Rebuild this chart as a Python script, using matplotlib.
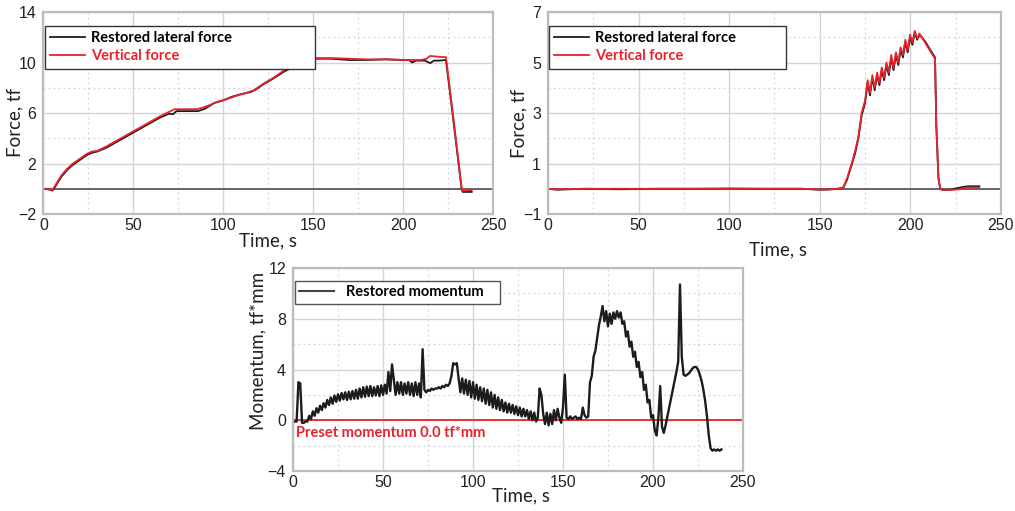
import numpy as np
import matplotlib
matplotlib.use("Agg")
import matplotlib.pyplot as plt
from matplotlib.ticker import MultipleLocator

# font per numeri ed etichette
plt.rcParams["font.family"] = ["Liberation Sans", "DejaVu Sans"]

# --- grafico 1: forza laterale ricostruita e forza verticale ---
t1_lat = [0, 3, 5, 7, 10, 13, 16, 20, 24, 27, 30, 35, 40, 45, 50, 55, 60, 65, 70, 72,
          74, 80, 86, 90, 95, 100, 105, 110, 115, 118, 122, 128, 134, 139, 141, 146, 150,
          160, 170, 180, 190, 200, 203, 205, 207, 212, 215, 217, 220, 223.7, 228, 232.4,
          233, 238]
f1_lat = [0, -0.05, -0.15, 0.25, 0.95, 1.45, 1.85, 2.25, 2.65, 2.85, 2.95, 3.25, 3.65,
          4.05, 4.45, 4.85, 5.25, 5.65, 5.95, 5.9, 6.15, 6.15, 6.15, 6.35, 6.8, 7.0, 7.3,
          7.5, 7.65, 7.85, 8.25, 8.75, 9.3, 9.65, 9.9, 10.2, 10.3, 10.3, 10.2, 10.2, 10.25,
          10.2, 10.2, 10.0, 10.15, 10.15, 9.95, 10.15, 10.15, 10.2, 5.2, 0.0, -0.25, -0.25]
t1_ver = [0, 3, 5, 7, 10, 13, 16, 20, 24, 27, 30, 35, 40, 45, 50, 55, 60, 65, 70, 73,
          78, 85, 88, 92, 97, 102, 108, 113, 117, 122, 128, 134, 140, 145, 150, 160, 170,
          180, 190, 200, 205, 210, 213, 214.8, 220, 223.7, 228, 232.4, 233, 238]
f1_ver = [0, 0, -0.1, 0.35, 1.05, 1.55, 1.95, 2.35, 2.75, 2.95, 3.0, 3.35, 3.75, 4.15,
          4.55, 4.95, 5.35, 5.75, 6.1, 6.3, 6.3, 6.3, 6.4, 6.6, 6.9, 7.1, 7.4, 7.6, 7.8,
          8.3, 8.8, 9.4, 9.9, 10.2, 10.35, 10.35, 10.3, 10.25, 10.25, 10.2, 10.2, 10.2,
          10.3, 10.52, 10.45, 10.42, 5.4, 0.05, -0.15, -0.12]

# --- grafico 2 ---
t2_lat = [0, 5, 20, 40, 60, 80, 100, 120, 140, 150, 155, 160, 163, 165, 167.6, 169.5,
          171.3, 173.1, 175, 176.4, 177.7, 179.0, 180.3, 181.6, 182.9, 184.2, 185.5, 186.8,
          188.1, 189.4, 190.7, 192.0, 193.3, 194.6, 195.9, 197.2, 198.5, 199.8, 201.1,
          202.4, 203.7, 205.0, 208, 211, 213.6, 214.3, 215.5, 216.5, 218, 222, 226, 230,
          232, 238]
f2_lat = [0, -0.04, 0, -0.02, 0, 0, 0.01, 0, 0, -0.04, -0.03, 0, 0.05, 0.35, 0.95, 1.4,
          2.0, 2.9, 3.4, 4.2, 3.7, 4.4, 3.9, 4.5, 4.1, 4.7, 4.3, 4.9, 4.5, 5.2, 4.7, 5.3,
          4.9, 5.5, 5.2, 5.8, 5.4, 6.0, 5.7, 6.2, 5.9, 6.1, 5.85, 5.5, 5.2, 2.5, 0.4, 0.0,
          -0.05, -0.04, 0.03, 0.08, 0.1, 0.1]
t2_ver = [0, 5, 20, 40, 60, 80, 100, 120, 140, 150, 155, 160, 163, 165, 167.6, 169.5,
          171.3, 173.1, 175, 176.4, 177.7, 179.0, 180.3, 181.6, 182.9, 184.2, 185.5, 186.8,
          188.1, 189.4, 190.7, 192.0, 193.3, 194.6, 195.9, 197.2, 198.5, 199.8, 201.1,
          202.4, 203.7, 205.0, 208, 211, 213.6, 214.3, 215.5, 216.5, 218, 222, 226, 230,
          232, 238]
f2_ver = [0, -0.02, 0, 0, 0, 0, 0, 0, 0, -0.03, -0.02, 0, 0.05, 0.4, 1.0, 1.5, 2.06,
          3.0, 3.5, 4.3, 3.8, 4.5, 4.0, 4.6, 4.2, 4.8, 4.4, 5.0, 4.6, 5.3, 4.8, 5.4, 5.0,
          5.6, 5.3, 5.9, 5.5, 6.1, 5.8, 6.25, 5.95, 6.15, 5.8, 5.45, 5.15, 2.5, 0.4, 0.0,
          -0.05, -0.05, -0.03, 0.02, 0.05, 0.05]

# --- grafico 3: momento ricostruito, un campione al secondo da 0 a 238 s ---
t3 = list(range(0, 239))
m3 = [-0.1, -0.1, -0.1, 3.0, 2.9, -0.2, -0.2, -0.1, -0.1, 0.35,
      0.1, 0.7, 0.35, 0.95, 0.6, 1.15, 0.8, 1.35, 1.0, 1.6,
      1.2, 1.8, 1.3, 1.95, 1.45, 2.05, 1.55, 2.15, 1.65, 2.2,
      1.6, 2.25, 1.65, 2.3, 1.7, 2.4, 1.7, 2.5, 1.8, 2.6,
      1.85, 2.65, 1.9, 2.7, 1.9, 2.6, 1.95, 2.7, 1.9, 2.75,
      2.0, 2.8, 2.1, 3.8, 2.3, 4.4, 3.2, 2.0, 3.0, 2.1,
      3.0, 2.0, 2.9, 2.1, 3.0, 2.0, 2.9, 1.9, 3.0, 2.0,
      2.9, 1.8, 5.6, 2.4, 2.2, 2.4, 2.3, 2.5, 2.4, 2.5,
      2.5, 2.6, 2.5, 2.7, 2.6, 2.8, 2.7, 2.9, 3.5, 4.5,
      4.4, 4.5, 3.3, 2.2, 3.3, 2.1, 3.2, 2.0, 3.1, 1.8,
      3.0, 1.7, 2.8, 1.6, 2.6, 1.5, 2.5, 1.3, 2.4, 1.2,
      2.2, 1.0, 2.0, 0.9, 1.8, 0.8, 1.6, 0.7, 1.4, 0.6,
      1.3, 0.6, 1.2, 0.5, 1.1, 0.4, 1.0, 0.3, 0.9, 0.3,
      0.8, 0.1, 0.7, 0.0, 0.6, -0.1, 0.2, 2.5, 2.0, 0.5,
      -0.3, 0.6, -0.4, 0.5, -0.3, 0.8, 0.0, 0.9, 0.2, -0.2,
      1.0, 3.6, 0.2, 0.1, 0.3, 0.1, 0.2, 0.3, 0.1, 0.2,
      0.1, 1.0, 0.4, 0.2, 0.3, 3.0, 3.5, 5.0, 5.5, 6.5,
      7.5, 8.2, 9.0, 7.8, 8.6, 7.4, 8.4, 7.6, 8.5, 8.0,
      8.6, 8.1, 8.5, 7.6, 7.8, 6.6, 7.0, 5.8, 6.2, 5.0,
      5.4, 4.2, 4.6, 3.4, 3.8, 2.4, 2.8, 1.4, 1.6, 0.2,
      0.4, -0.8, -1.2, 0.2, 2.7, -0.5, -1.0, -0.4, 0.3, 1.0,
      1.7, 2.4, 3.1, 3.8, 4.6, 10.7, 5.0, 3.6, 3.5, 3.6,
      3.7, 3.9, 4.1, 4.2, 4.2, 4.0, 3.6, 3.1, 2.4, 1.5,
      0.3, -1.2, -2.2, -2.4, -2.3, -2.4, -2.3, -2.4, -2.3]
preset_m = 0.0

# tacche degli assi y (principali con numero, secondarie puntinate)
y1_major = [-2, 2, 6, 10, 14]
y1_minor = [0, 4, 8, 12]
y2_major = [-1, 1, 3, 5, 7]
y2_minor = [0, 2, 4, 6]
y3_major = [-4, 0, 4, 8, 12]
y3_minor = [-2, 2, 6, 10]

rosso = "#e8232b"
nero = "#1c1c1c"


def stile_assi(ax, ymaj, ymin_):
    # griglia principale continua e secondaria puntinata, come nel grafico originale
    ax.set_xlim(0, 250)
    ax.set_ylim(ymaj[0], ymaj[-1])
    ax.xaxis.set_major_locator(MultipleLocator(50))
    ax.xaxis.set_minor_locator(MultipleLocator(25))
    ax.set_yticks(ymaj)
    ax.set_yticks(ymin_, minor=True)
    ax.grid(which="major", color="#d4d4d4", lw=1.0, ls="-")
    ax.grid(which="minor", color="#d4d4d4", lw=0.9, ls=(0, (1.5, 2.5)))
    ax.set_axisbelow(True)
    for s in ax.spines.values():
        s.set_color("#bcbcbc")
        s.set_linewidth(1.6)
    ax.tick_params(which="both", length=0, labelsize=11.5, colors="#222222")
    ax.tick_params(axis="x", pad=3)
    ax.tick_params(axis="y", pad=5)


fig = plt.figure(figsize=(10.15, 5.11), dpi=100)

ax1 = fig.add_axes([0.0427, 0.5812, 0.4433, 0.3953])
ax2 = fig.add_axes([0.5399, 0.5812, 0.4463, 0.3953])
ax3 = fig.add_axes([0.2887, 0.0783, 0.4433, 0.3972])

font_lab = dict(family=["Lato", "DejaVu Sans"], fontsize=13.5, color="#222222")
font_leg = {"family": ["Lato", "DejaVu Sans"], "size": 10.5, "weight": "bold"}

# grafico 1
stile_assi(ax1, y1_major, y1_minor)
ax1.axhline(0, color="#5a5a5a", lw=1.3, zorder=1)
ax1.plot(t1_lat, f1_lat, color=nero, lw=1.3, label="Restored lateral force")
ax1.plot(t1_ver, f1_ver, color=rosso, lw=1.3, label="Vertical force")
ax1.set_xlabel("Time, s", **font_lab)
ax1.set_ylabel("Force, tf", **font_lab)
ax1.xaxis.set_label_coords(0.499, -0.09)
ax1.yaxis.set_label_coords(-0.045, 0.455)
leg1 = ax1.legend(loc="upper left", bbox_to_anchor=(0.004, 0.728, 0.6, 0.203),
                  mode="expand", prop=font_leg, frameon=True, fancybox=False,
                  edgecolor="#333333", framealpha=1, handlelength=2.4,
                  handletextpad=0.4, borderpad=0.35, labelspacing=0.3,
                  borderaxespad=0)
leg1.get_frame().set_linewidth(1.0)
leg1.get_texts()[1].set_color(rosso)

# grafico 2
stile_assi(ax2, y2_major, y2_minor)
ax2.axhline(0, color="#5a5a5a", lw=1.3, zorder=1)
ax2.plot(t2_lat, f2_lat, color=nero, lw=1.3, label="Restored lateral force")
ax2.plot(t2_ver, f2_ver, color=rosso, lw=1.3, label="Vertical force")
ax2.set_xlabel("Time, s", **font_lab)
ax2.set_ylabel("Force, tf", **font_lab)
ax2.xaxis.set_label_coords(0.508, -0.135)
ax2.yaxis.set_label_coords(-0.045, 0.45)
leg2 = ax2.legend(loc="upper left", bbox_to_anchor=(0.002, 0.728, 0.523, 0.203),
                  mode="expand", prop=font_leg, frameon=True, fancybox=False,
                  edgecolor="#333333", framealpha=1, handlelength=2.4,
                  handletextpad=0.4, borderpad=0.35, labelspacing=0.3,
                  borderaxespad=0)
leg2.get_frame().set_linewidth(1.0)
leg2.get_texts()[1].set_color(rosso)

# grafico 3
stile_assi(ax3, y3_major, y3_minor)
ax3.axhline(preset_m, color=rosso, lw=1.3, zorder=1)
ax3.plot(t3, m3, color=nero, lw=1.7, label="Restored momentum")
ax3.text(1.5, -1.0, "Preset momentum 0.0 tf*mm", color=rosso, va="center",
         fontdict=font_leg)
ax3.set_xlabel("Time, s", **font_lab)
ax3.set_ylabel("Momentum, tf*mm", **font_lab)
ax3.xaxis.set_label_coords(0.507, -0.08)
ax3.yaxis.set_label_coords(-0.06, 0.59)
leg3 = ax3.legend(loc="upper left", bbox_to_anchor=(0.004, 0.818, 0.456, 0.118),
                  mode="expand", prop=font_leg, frameon=True, fancybox=False,
                  edgecolor="#555555", framealpha=1, handlelength=2.4,
                  handletextpad=0.8, borderpad=0.3, borderaxespad=0)
leg3.get_frame().set_linewidth(1.0)
leg3.get_lines()[0].set_color("#444444")
leg3.get_lines()[0].set_linewidth(1.5)

fig.savefig("out.png", dpi=100)
